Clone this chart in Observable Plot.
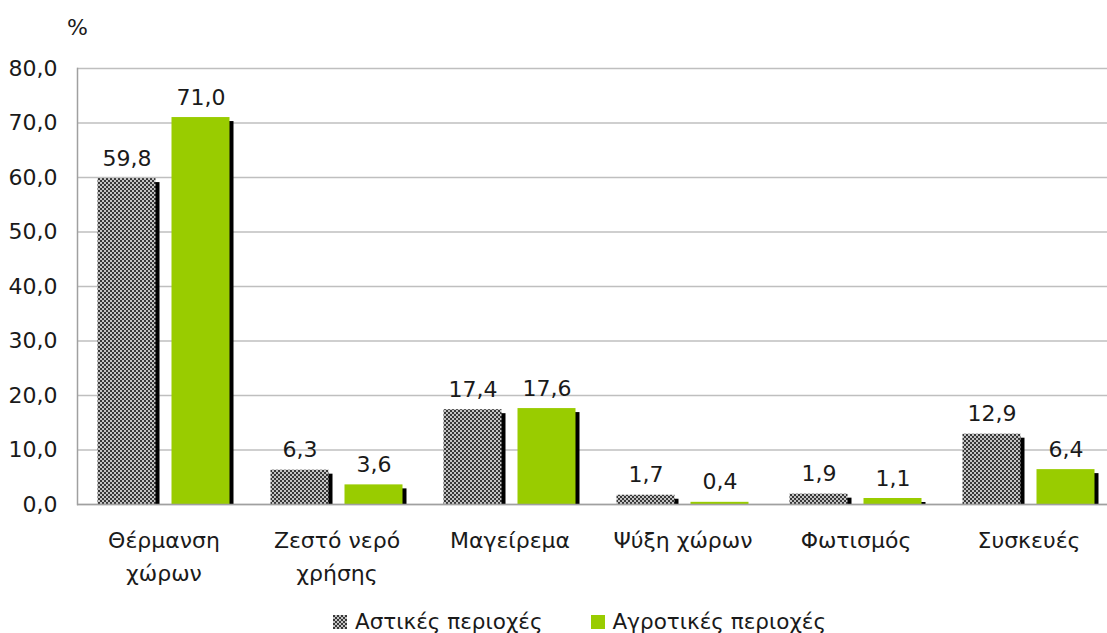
<!DOCTYPE html>
<html>
<head>
<meta charset="utf-8">
<script src="https://cdn.jsdelivr.net/npm/d3@7"></script>
<script src="https://cdn.jsdelivr.net/npm/@observablehq/plot@0.6"></script>
<style>
  html, body { margin: 0; padding: 0; background: #fff; overflow: hidden; }
  body { width: 1107px; height: 633px; font-family: "DejaVu Sans", sans-serif; color: #1a1a1a; }
  #chart { width: 1107px; overflow: hidden; }
  #legend { display: flex; align-items: center; height: 33px; padding-top: 5px; margin-left: 333px; font-size: 21.5px; }
  #legend .item { display: flex; align-items: center; margin-right: 48px; }
  #legend svg { margin-right: 8px; }
</style>
</head>
<body>
<div id="chart"></div>
<div id="legend"></div>
<script>
const categories = ["Θέρμανση\nχώρων", "Ζεστό νερό\nχρήσης", "Μαγείρεμα", "Ψύξη χώρων", "Φωτισμός", "Συσκευές"];
const series = ["Αστικές περιοχές", "Αγροτικές περιοχές"];
const urban = [59.8, 6.3, 17.4, 1.7, 1.9, 12.9];
const rural = [71.0, 3.6, 17.6, 0.4, 1.1, 6.4];
const yTicks = [0, 10, 20, 30, 40, 50, 60, 70, 80];
const colors = ["url(#checker)", "#99cc00"];

const fmt = v => d3.format(".1f")(v).replace(".", ",");
const urbanData = categories.map((c, i) => ({cat: c, v: urban[i]}));
const ruralData = categories.map((c, i) => ({cat: c, v: rural[i]}));

// band geometry within each category band (step 173px): bar 58px, gap 16px, outer 20.5px
const inU = {insetLeft: 20.5, insetRight: 94.5};
const inR = {insetLeft: 94.5, insetRight: 20.5};
const FS = 22;

const chart = Plot.plot({
  width: 1115,
  height: 600,
  marginLeft: 77,
  marginRight: 0,
  marginTop: 68,
  marginBottom: 96,
  style: {fontFamily: "DejaVu Sans, sans-serif", fontSize: FS + "px", color: "#1a1a1a", background: "#fff", maxWidth: "none"},
  x: {domain: categories, padding: 0, label: null},
  y: {domain: [0, 80], label: null},
  marks: [
    Plot.gridY(yTicks, {stroke: "#bfbfbf", strokeOpacity: 1, strokeWidth: 1.5}),
    Plot.frame({anchor: "left", stroke: "#a0a0a0", strokeWidth: 1.5}),
    Plot.barY(urbanData, {x: "cat", y: "v", ...inU, insetTop: 4, dx: 4, fill: "#000"}),
    Plot.barY(ruralData, {x: "cat", y: "v", ...inR, insetTop: 4, dx: 4, fill: "#000"}),
    Plot.barY(urbanData, {x: "cat", y: "v", ...inU, fill: colors[0]}),
    Plot.barY(ruralData, {x: "cat", y: "v", ...inR, fill: colors[1]}),
    Plot.ruleY([0], {stroke: "#a0a0a0", strokeWidth: 1.5}),
    Plot.text(urbanData, {x: "cat", y: "v", text: d => fmt(d.v), dx: -37, dy: -13, lineAnchor: "bottom", fontSize: FS, fill: "#1a1a1a"}),
    Plot.text(ruralData, {x: "cat", y: "v", text: d => fmt(d.v), dx: 37, dy: -13, lineAnchor: "bottom", fontSize: FS, fill: "#1a1a1a"}),
    Plot.axisY(yTicks, {tickSize: 0, tickPadding: 20, tickFormat: fmt, fontSize: FS, fill: "#1a1a1a", label: null}),
    Plot.axisX({tickSize: 0, tickPadding: 20, fontSize: FS, lineHeight: 1.5, fill: "#1a1a1a", label: null}),
    Plot.text(["%"], {frameAnchor: "top-left", dy: -41, textAnchor: "middle", lineAnchor: "middle", fontSize: FS, fill: "#1a1a1a"})
  ]
});

// checker pattern definition
function addPattern(sel, id) {
  const p = sel.append("pattern").attr("id", id).attr("patternUnits", "userSpaceOnUse")
    .attr("width", 4).attr("height", 4);
  p.append("rect").attr("width", 4).attr("height", 4).attr("fill", "#c4c4c4");
  p.append("rect").attr("width", 2).attr("height", 2).attr("fill", "#383838");
  p.append("rect").attr("x", 2).attr("y", 2).attr("width", 2).attr("height", 2).attr("fill", "#383838");
}
addPattern(d3.select(chart).insert("defs", ":first-child"), "checker");
document.getElementById("chart").appendChild(chart);

// legend
const legend = d3.select("#legend");
series.forEach((s, i) => {
  const item = legend.append("div").attr("class", "item");
  const sw = item.append("svg").attr("width", 14).attr("height", 14);
  if (i === 0) {
    addPattern(sw.append("defs"), "checkerL");
    sw.append("rect").attr("width", 14).attr("height", 14).attr("fill", "url(#checkerL)");
  } else {
    sw.append("rect").attr("width", 14).attr("height", 14).attr("fill", colors[1]);
  }
  item.append("span").text(s);
});
</script>
</body>
</html>
